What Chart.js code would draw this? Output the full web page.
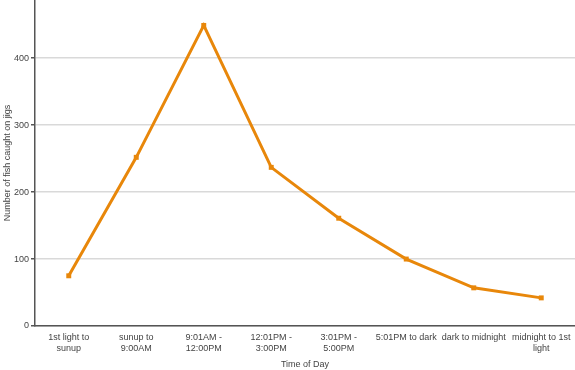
<!DOCTYPE html>
<html>
<head>
<meta charset="utf-8">
<script src="https://cdn.jsdelivr.net/npm/chart.js@4/dist/chart.umd.min.js"></script>
<style>
  html, body { margin: 0; padding: 0; background: #fff; }
  #wrap { width: 575px; height: 370px; position: relative; }
</style>
</head>
<body>
<div id="wrap"><canvas id="fishChart"></canvas></div>
<script>
// time-of-day buckets (tick labels, wrapped as in the picture)
const timeLabels = [
  ['1st light to', 'sunup'],
  ['sunup to', '9:00AM'],
  ['9:01AM -', '12:00PM'],
  ['12:01PM -', '3:00PM'],
  ['3:01PM -', '5:00PM'],
  '5:01PM to dark',
  'dark to midnight',
  ['midnight to 1st', 'light']
];
// fish caught on jigs
const fishCounts = [75, 252, 449, 237, 161, 100, 57, 42];
const yTicks = [0, 100, 200, 300, 400];

const orange = '#e8870a';
const axisGray = '#555';
const textGray = '#444';
const font9 = { family: 'Liberation Sans, Arial, sans-serif', size: 9 };

new Chart(document.getElementById('fishChart'), {
  type: 'line',
  data: {
    labels: timeLabels,
    datasets: [{
      label: 'Fish caught',
      data: fishCounts,
      borderColor: orange,
      backgroundColor: orange,
      borderWidth: 3,
      pointStyle: 'rect',
      pointRadius: 3.5,
      pointBorderWidth: 0,
      tension: 0,
      fill: false
    }]
  },
  options: {
    responsive: true,
    maintainAspectRatio: false,
    animation: false,
    layout: { autoPadding: false, padding: 0 },
    plugins: {
      legend: { display: false },
      tooltip: { enabled: false }
    },
    scales: {
      x: {
        offset: true,
        grid: { display: false, drawTicks: true, tickLength: 4, tickColor: axisGray },
        border: { color: axisGray, width: 1.5 },
        ticks: { color: textGray, font: font9, maxRotation: 0, autoSkip: false, padding: 2 },
        title: {
          display: true,
          text: 'Time of Day',
          color: textGray,
          font: font9,
          padding: { top: 0, bottom: 0 }
        },
        afterFit(scale) {
          scale.height = 44;
          scale.paddingLeft = 0;
          scale.paddingRight = 0;
        }
      },
      y: {
        min: 0,
        max: 487,
        afterBuildTicks(scale) {
          scale.ticks = yTicks.map(v => ({ value: v }));
        },
        grid: {
          color: '#d9d9d9',
          lineWidth: 1.5,
          drawTicks: true,
          tickLength: 4,
          tickColor: axisGray
        },
        border: { color: axisGray, width: 1.5 },
        ticks: { color: textGray, font: font9, padding: 2 },
        title: {
          display: true,
          text: 'Number of fish caught on jigs',
          color: textGray,
          font: font9,
          padding: { top: 2, bottom: 0 }
        },
        afterFit(scale) {
          scale.width = 35;
          scale.paddingTop = 0;
          scale.paddingBottom = 0;
        }
      }
    }
  }
});
</script>
</body>
</html>
